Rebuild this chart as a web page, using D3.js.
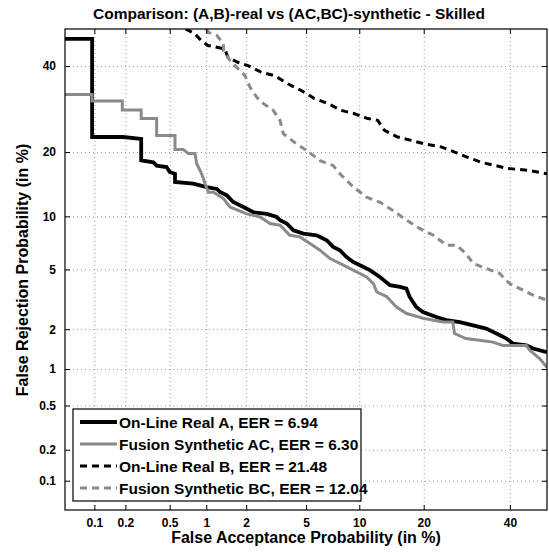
<!DOCTYPE html>
<html>
<head>
<meta charset="utf-8">
<script src="https://cdn.jsdelivr.net/npm/d3@7"></script>
<style>
  body { margin: 0; background: #fff; }
  svg text { font-family: "Liberation Sans", Arial, sans-serif; font-weight: bold; }
</style>
</head>
<body>
<div id="chart"></div>
<script>
// tick values (in %)
const tickValues = [0.1, 0.2, 0.5, 1, 2, 5, 10, 20, 40];

// DET curves: false acceptance (%) and false rejection (%)
const realA_fa = [0.05, 0.095, 0.095, 0.19, 0.28, 0.28, 0.36, 0.385, 0.47, 0.50, 0.555, 0.555, 0.787, 1.01, 1.21, 1.28, 1.44, 1.61, 1.91, 2.25, 2.79, 3.25, 3.42, 3.78, 4.17, 4.81, 5.79, 6.63, 7.22, 7.87, 8.56, 9.29, 10.08, 11.33, 12.7, 14.19, 15.77, 16.86, 17.4, 18.6, 19.85, 22.5, 24.6, 27.6, 30.7, 33.9, 36.5, 39.1, 40.8, 44.4, 46.2, 50];
const realA_fr = [47.3, 47.3, 23.0, 23.0, 22.6, 18.45, 18.1, 17.5, 17.25, 16.4, 16.1, 14.77, 14.5, 13.97, 13.7, 13.25, 12.75, 11.83, 11.17, 10.5, 10.3, 9.92, 9.55, 9.17, 8.43, 8.08, 7.91, 7.42, 6.80, 6.51, 5.94, 5.55, 5.30, 4.95, 4.49, 3.98, 3.89, 3.79, 3.35, 2.86, 2.64, 2.44, 2.32, 2.25, 2.13, 2.02, 1.86, 1.71, 1.57, 1.52, 1.44, 1.35];

const synthAC_fa = [0.05, 0.095, 0.095, 0.187, 0.187, 0.28, 0.28, 0.385, 0.385, 0.555, 0.555, 0.651, 0.716, 0.813, 0.84, 0.92, 0.98, 1.04, 1.14, 1.36, 1.52, 2.02, 2.51, 2.93, 3.42, 3.96, 4.59, 5.28, 6.06, 6.92, 7.87, 9.29, 10.9, 11.8, 12.25, 13.7, 15.2, 16.9, 19.85, 23.9, 26.0, 26.4, 29.0, 32.2, 35.6, 38.1, 44.4, 45.3, 48.0, 50];
const synthAC_fr = [32.7, 32.7, 31.1, 31.1, 29.0, 29.0, 27.0, 27.0, 23.3, 23.3, 20.5, 20.5, 19.7, 19.7, 17.85, 16.1, 14.5, 13.2, 13.2, 12.3, 11.17, 10.3, 9.92, 9.17, 8.97, 7.91, 7.75, 7.12, 6.51, 5.82, 5.44, 4.95, 4.49, 4.08, 3.61, 3.35, 2.86, 2.58, 2.39, 2.25, 2.25, 1.86, 1.71, 1.66, 1.61, 1.52, 1.52, 1.40, 1.21, 1.03];

const realB_fa = [0.68, 0.81, 0.91, 1.03, 1.39, 1.47, 1.74, 2.06, 2.55, 3.14, 3.84, 4.67, 5.62, 6.73, 8.0, 9.45, 11.07, 12.4, 13.35, 15.4, 17.7, 20.1, 23.5, 26.4, 29.4, 32.6, 36.0, 39.4, 44.8, 50];
const realB_fr = [50, 48.7, 46.9, 45.5, 44.6, 42.3, 41.0, 40.1, 38.4, 37.5, 35.4, 33.7, 31.7, 30.5, 28.9, 28.1, 27.0, 26.6, 24.4, 23.0, 22.3, 21.6, 21.0, 20.0, 19.0, 18.1, 17.55, 17.0, 16.7, 16.1];

const synthBC_fa = [1.0, 1.04, 1.21, 1.36, 1.36, 1.52, 1.80, 1.96, 2.13, 2.37, 2.64, 3.08, 3.42, 3.59, 4.36, 5.04, 6.06, 7.22, 7.87, 9.29, 10.9, 12.7, 14.7, 16.9, 19.3, 21.9, 24.6, 26.8, 29.0, 30.7, 33.9, 37.3, 39.9, 43.5, 46.2, 50];
const synthBC_fr = [50, 49.1, 48.2, 46.0, 44.2, 41.5, 38.8, 37.5, 34.5, 32.1, 30.5, 28.9, 26.6, 23.7, 21.6, 20.3, 18.4, 17.5, 16.1, 14.0, 12.5, 11.8, 10.7, 9.53, 8.6, 7.91, 6.96, 6.96, 6.23, 5.44, 5.07, 4.73, 4.08, 3.70, 3.43, 3.18];

const seriesNames = ["On-Line Real A, EER = 6.94", "Fusion Synthetic AC, EER = 6.30",
                     "On-Line Real B, EER = 21.48", "Fusion Synthetic BC, EER = 12.04"];

// inverse normal CDF (Acklam)
function probit(p) {
    const a = [-3.969683028665376e+01, 2.209460984245205e+02, -2.759285104469687e+02, 1.383577518672690e+02, -3.066479806614716e+01, 2.506628277459239e+00];
    const b = [-5.447609879822406e+01, 1.615858368580409e+02, -1.556989798598866e+02, 6.680131188771972e+01, -1.328068155288572e+01];
    const c = [-7.784894002430293e-03, -3.223964580411365e-01, -2.400758277161838e+00, -2.549732539343734e+00, 4.374664141464968e+00, 2.938163982698783e+00];
    const d = [7.784695709041462e-03, 3.224671290700398e-01, 2.445134137142996e+00, 3.754408661907416e+00];
    const pl = 0.02425;
    let q, r;
    if (p < pl) {
        q = Math.sqrt(-2 * Math.log(p));
        return (((((c[0]*q+c[1])*q+c[2])*q+c[3])*q+c[4])*q+c[5]) / ((((d[0]*q+d[1])*q+d[2])*q+d[3])*q+1);
    } else if (p <= 1 - pl) {
        q = p - 0.5; r = q * q;
        return (((((a[0]*r+a[1])*r+a[2])*r+a[3])*r+a[4])*r+a[5])*q / (((((b[0]*r+b[1])*r+b[2])*r+b[3])*r+b[4])*r+1);
    }
    q = Math.sqrt(-2 * Math.log(1 - p));
    return -(((((c[0]*q+c[1])*q+c[2])*q+c[3])*q+c[4])*q+c[5]) / ((((d[0]*q+d[1])*q+d[2])*q+d[3])*q+1);
}
const pz = v => probit(v / 100);

const margin = { top: 29, right: 2, bottom: 43, left: 65 };
const W = 549, H = 553;
const width = W - margin.left - margin.right;
const height = H - margin.top - margin.bottom;

const svg = d3.select("#chart").append("svg")
    .attr("width", W).attr("height", H);
const g = svg.append("g").attr("transform", `translate(${margin.left},${margin.top})`);

// probit scales wrapped in linear scales
const xLin = d3.scaleLinear().domain([pz(0.05), pz(50)]).range([0, width]);
const yLin = d3.scaleLinear().domain([pz(0.05), pz(50)]).range([height, 0]);
const x = v => xLin(pz(v));
const y = v => yLin(pz(v));

// grid
const grid = g.append("g").attr("stroke", "#9a9a9a").attr("stroke-width", 1).attr("stroke-dasharray", "1,3");
grid.selectAll(".vx").data(tickValues).enter().append("line")
    .attr("x1", d => x(d) + 0.5).attr("x2", d => x(d) + 0.5)
    .attr("y1", 0).attr("y2", height);
grid.selectAll(".hy").data(tickValues).enter().append("line")
    .attr("y1", d => y(d) + 0.5).attr("y2", d => y(d) + 0.5)
    .attr("x1", 0).attr("x2", width);

// curves
g.append("clipPath").attr("id", "clip").append("rect").attr("width", width).attr("height", height);
const line = d3.line().x(d => x(d[0])).y(d => y(d[1]));
const zip = (a, b) => a.map((v, i) => [v, b[i]]);
const curves = [
    { pts: zip(realA_fa, realA_fr), color: "#000", w: 3.8, dash: null },
    { pts: zip(synthAC_fa, synthAC_fr), color: "#8a8a8a", w: 3, dash: null },
    { pts: zip(realB_fa, realB_fr), color: "#000", w: 3, dash: "7,5" },
    { pts: zip(synthBC_fa, synthBC_fr), color: "#8a8a8a", w: 3, dash: "7,5" }
];
const cg = g.append("g").attr("clip-path", "url(#clip)");
cg.selectAll("path").data(curves).enter().append("path")
    .attr("d", d => line(d.pts))
    .attr("fill", "none")
    .attr("stroke", d => d.color)
    .attr("stroke-width", d => d.w)
    .attr("stroke-dasharray", d => d.dash)
    .attr("stroke-linejoin", "miter");

// axes (ticks inside, mirrored)
const fmt = d => String(d);
const xAxis = d3.axisBottom(xLin).tickValues(tickValues.map(pz)).tickFormat((d, i) => fmt(tickValues[i])).tickSizeInner(-5).tickSizeOuter(0).tickPadding(8);
const yAxis = d3.axisLeft(yLin).tickValues(tickValues.map(pz)).tickFormat((d, i) => fmt(tickValues[i])).tickSizeInner(-5).tickSizeOuter(0).tickPadding(9);
const xTop = d3.axisTop(xLin).tickValues(tickValues.map(pz)).tickFormat("").tickSizeInner(-5).tickSizeOuter(0);
const yRight = d3.axisRight(yLin).tickValues(tickValues.map(pz)).tickFormat("").tickSizeInner(-5).tickSizeOuter(0);

function styleAxis(sel) {
    sel.select(".domain").remove();
    sel.selectAll("line").attr("stroke", "#000");
    sel.selectAll("text").attr("fill", "#000").style("font-size", "12px").style("font-weight", "bold");
}
g.append("g").attr("transform", `translate(0,${height})`).call(xAxis).call(styleAxis);
g.append("g").call(yAxis).call(styleAxis);
g.append("g").call(xTop).call(styleAxis);
g.append("g").attr("transform", `translate(${width},0)`).call(yRight).call(styleAxis);

g.append("rect").attr("width", width).attr("height", height)
    .attr("fill", "none").attr("stroke", "#000").attr("stroke-width", 1.2);

// legend
const lg = g.append("g").attr("transform", `translate(${73 - margin.left},${409 - margin.top})`);
lg.append("rect").attr("width", 288).attr("height", 92)
    .attr("fill", "#fff").attr("stroke", "#000").attr("stroke-width", 1.2);
const items = lg.selectAll(".item").data(curves).enter().append("g")
    .attr("transform", (d, i) => `translate(0,${13 + i * 22})`);
items.append("line").attr("x1", 7).attr("x2", 44).attr("y1", 0).attr("y2", 0)
    .attr("stroke", d => d.color).attr("stroke-width", d => d.w)
    .attr("stroke-dasharray", d => d.dash ? "7,5" : null);
items.append("text").attr("x", 46).attr("y", 6)
    .style("font-size", "15.5px")
    .text((d, i) => seriesNames[i]);

// titles
svg.append("text").attr("x", 289).attr("y", 19).attr("text-anchor", "middle")
    .style("font-size", "15.5px").text("Comparison: (A,B)-real vs (AC,BC)-synthetic - Skilled");
svg.append("text").attr("x", 306).attr("y", 543).attr("text-anchor", "middle")
    .style("font-size", "16px").text("False Acceptance Probability (in %)");
svg.append("text").attr("transform", "translate(28,270) rotate(-90)").attr("text-anchor", "middle")
    .style("font-size", "16px").text("False Rejection Probability (in %)");
</script>
</body>
</html>
